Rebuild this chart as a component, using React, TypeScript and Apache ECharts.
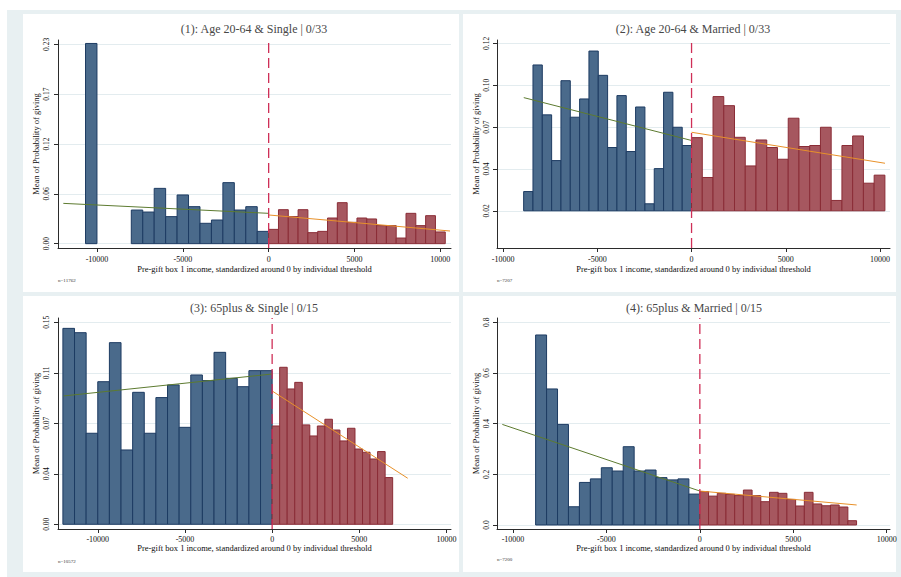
import React, { useEffect, useRef } from "react";
import * as echarts from "echarts";

// ---------- text ----------
const titles = [
  "(1): Age 20-64 & Single | 0/33",
  "(2): Age 20-64 & Married | 0/33",
  "(3): 65plus & Single | 0/15",
  "(4): 65plus & Married | 0/15",
];
const notes = ["n=11762", "n=7207", "n=10572", "n=7200"];
const xTitle = "Pre-gift box 1 income, standardized around 0 by individual threshold";
const yTitle = "Mean of Probability of giving";
const xTicks = [-10000, -5000, 0, 5000, 10000];
const xTickLabels = ["-10000", "-5000", "0", "5000", "10000"];

// ---------- y ticks ----------
const p1YTicks = [0, 0.0575, 0.115, 0.1725, 0.23];
const p1YLabels = ["0.00", "0.06", "0.12", "0.17", "0.23"];
const p2YTicks = [0.02, 0.045, 0.07, 0.095, 0.12];
const p2YLabels = ["0.02", "0.04", "0.07", "0.10", "0.12"];
const p3YTicks = [0, 0.0375, 0.075, 0.1125, 0.15];
const p3YLabels = ["0.00", "0.04", "0.07", "0.11", "0.15"];
const p4YTicks = [0, 0.2, 0.4, 0.6, 0.8];
const p4YLabels = ["0.0", "0.2", "0.4", "0.6", "0.8"];

// ---------- axis ranges ----------
const p1XRange = [-12270, 10620];
const p1YRange = [-0.005, 0.235];
const p2XRange = [-10324, 10531];
const p2YRange = [-0.0022, 0.122];
const p3XRange = [-12281, 10258];
const p3YRange = [-0.0035, 0.1532];
const p4XRange = [-10857, 10177];
const p4YRange = [-0.0158, 0.817];

// ---------- bins (start, width) ----------
const p1BlueBin = [-10667, 666.7];
const p1RedBin = [0, 571.4];
const p2BlueBin = [-8910, 495];
const p2RedBin = [0, 570];
const p3BlueBin = [-12000, 666.7];
const p3RedBin = [0, 432];
const p4BlueBin = [-8790, 586];
const p4RedBin = [0, 466];

// ---------- bar values ----------
const p1Blue = [0.231, null, null, null, 0.0388, 0.0365, 0.0638, 0.0312, 0.0562, 0.0427, 0.0235, 0.0273, 0.0704, 0.0388, 0.0427, 0.0142];
const p1Red = [0.0165, 0.0392, 0.0312, 0.0392, 0.0127, 0.0142, 0.0296, 0.0473, 0.0246, 0.0296, 0.0285, 0.0208, 0.0208, 0.0065, 0.035, 0.0208, 0.0323, 0.0135];
const p2Blue = [0.0315, 0.1071, 0.0773, 0.05, 0.0977, 0.0759, 0.0868, 0.1154, 0.1009, 0.0578, 0.0888, 0.0554, 0.082, 0.0242, 0.0452, 0.0908, 0.0699, 0.059];
const p2Red = [0.0637, 0.0399, 0.0882, 0.0828, 0.0639, 0.0468, 0.0623, 0.0578, 0.0508, 0.0753, 0.0584, 0.059, 0.0699, 0.0262, 0.059, 0.0647, 0.0365, 0.0413];
const p3Blue = [0.1455, 0.1423, 0.0676, 0.1059, 0.1349, 0.0552, 0.098, 0.0676, 0.0941, 0.1035, 0.072, 0.1109, 0.1067, 0.1277, 0.1084, 0.1022, 0.1141, 0.1141];
const p3Red = [0.073, 0.1166, 0.1005, 0.1054, 0.0738, 0.0656, 0.073, 0.078, 0.07, 0.0619, 0.0713, 0.0559, 0.0535, 0.0485, 0.054, 0.0347];
const p4Blue = [0.75, 0.537, 0.397, 0.072, 0.168, 0.182, 0.226, 0.213, 0.309, 0.213, 0.217, 0.187, 0.178, 0.182, 0.122];
const p4Red = [0.132, 0.114, 0.125, 0.121, 0.116, 0.138, 0.116, 0.092, 0.129, 0.125, 0.101, 0.075, 0.129, 0.083, 0.076, 0.079, 0.071, 0.017];
const barBase = [0, 0.02, 0, 0];

// ---------- fitted lines ----------
const p1FitLeft = [[-11960, 0.0465], [0, 0.035]];
const p1FitRight = [[0, 0.0331], [10563, 0.0146]];
const p2FitLeft = [[-8903, 0.0876], [0, 0.062]];
const p2FitRight = [[0, 0.0669], [10265, 0.0484]];
const p3FitLeft = [[-11958, 0.0953], [0, 0.1116]];
const p3FitRight = [[0, 0.099], [7775, 0.0342]];
const p4FitLeft = [[-10571, 0.397], [0, 0.134]];
const p4FitRight = [[0, 0.134], [8393, 0.079]];

// ---------- layout & styles ----------
const grids = [
  { left: 58, top: 40, width: 393, height: 208 },
  { left: 497, top: 40, width: 393, height: 208 },
  { left: 58, top: 318, width: 393, height: 211 },
  { left: 497, top: 318, width: 393, height: 211 },
];
const panels = [
  { x: 23, y: 14, w: 436, h: 278 },
  { x: 463, y: 14, w: 433, h: 278 },
  { x: 23, y: 296, w: 436, h: 276 },
  { x: 463, y: 296, w: 433, h: 276 },
];
const titlePos = [[254, 29], [693, 29], [254, 308], [694, 308]];
const notePos = [[58, 280], [497, 280], [58, 561], [497, 559]];
const yLabelMargin = [8, 7, 8, 7];
const yNameGap = [18, 17, 18, 17];
const xLabelMargin = [7.5, 7.5, 6, 6];
const xNameGap = [15, 15, 14, 14];

const FONT = "'Liberation Serif', 'DejaVu Serif', serif";
const BLUE_FILL = "#4a6a8b";
const BLUE_EDGE = "#1d3b62";
const RED_FILL = "#a6575f";
const RED_EDGE = "#8a2c36";
const GREEN = "#5d7b30";
const ORANGE = "#e8912a";
const DASH = "#cf2f57";
const GRIDC = "#e3ecef";
const BG = "#e8f0f2";
const TXT = "#0d0d0d";

type Panel = {
  xr: number[]; yr: number[]; yt: number[]; yl: string[];
  blue: (number | null)[]; red: (number | null)[];
  blueBin: number[]; redBin: number[];
  fitL: number[][]; fitR: number[][];
};

const panelData: Panel[] = [
  { xr: p1XRange, yr: p1YRange, yt: p1YTicks, yl: p1YLabels, blue: p1Blue, red: p1Red, blueBin: p1BlueBin, redBin: p1RedBin, fitL: p1FitLeft, fitR: p1FitRight },
  { xr: p2XRange, yr: p2YRange, yt: p2YTicks, yl: p2YLabels, blue: p2Blue, red: p2Red, blueBin: p2BlueBin, redBin: p2RedBin, fitL: p2FitLeft, fitR: p2FitRight },
  { xr: p3XRange, yr: p3YRange, yt: p3YTicks, yl: p3YLabels, blue: p3Blue, red: p3Red, blueBin: p3BlueBin, redBin: p3RedBin, fitL: p3FitLeft, fitR: p3FitRight },
  { xr: p4XRange, yr: p4YRange, yt: p4YTicks, yl: p4YLabels, blue: p4Blue, red: p4Red, blueBin: p4BlueBin, redBin: p4RedBin, fitL: p4FitLeft, fitR: p4FitRight },
];

function binRows(vals: (number | null)[], bin: number[], base: number) {
  const rows: number[][] = [];
  vals.forEach((v, i) => {
    if (v == null) return;
    const s = bin[0] + i * bin[1];
    rows.push([s, s + bin[1], v, base]);
  });
  return rows;
}

function barSeries(idx: number, rows: number[][], fill: string, edge: string) {
  return {
    type: "custom",
    xAxisIndex: idx,
    yAxisIndex: idx,
    encode: { x: [0, 1], y: [2, 3] },
    data: rows,
    z: 2,
    renderItem: (_p: any, api: any) => {
      const a = api.coord([api.value(0), api.value(2)]);
      const b = api.coord([api.value(1), api.value(3)]);
      return {
        type: "rect",
        shape: { x: a[0], y: a[1], width: b[0] - a[0], height: b[1] - a[1] },
        style: { fill, stroke: edge, lineWidth: 1 },
      };
    },
  };
}

export default function App() {
  const ref = useRef<HTMLDivElement>(null);
  useEffect(() => {
    if (!ref.current) return;
    const chart = echarts.init(ref.current, undefined, { renderer: "svg" });

    const xAxis: any[] = [];
    const yAxis: any[] = [];
    const series: any[] = [];
    const graphic: any[] = [
      { type: "rect", z: -100, shape: { x: 7, y: 10, width: 894, height: 567 }, style: { fill: BG } },
    ];

    panelData.forEach((p, i) => {
      graphic.push({ type: "rect", z: -90, shape: { x: panels[i].x, y: panels[i].y, width: panels[i].w, height: panels[i].h }, style: { fill: "#ffffff" } });
      graphic.push({ type: "text", x: titlePos[i][0], y: titlePos[i][1], style: { text: titles[i], font: `12px ${FONT}`, fill: "#474747", textAlign: "center", textVerticalAlign: "middle" } });
      graphic.push({ type: "text", x: notePos[i][0], y: notePos[i][1], style: { text: notes[i], font: `5px ${FONT}`, fill: "#333", textAlign: "left", textVerticalAlign: "middle" } });

      xAxis.push({
        type: "value", gridIndex: i, min: p.xr[0], max: p.xr[1],
        name: xTitle, nameLocation: "middle", nameGap: xNameGap[i],
        nameTextStyle: { fontFamily: FONT, fontSize: 8.5, color: TXT },
        axisLine: { show: true, onZero: false, lineStyle: { color: "#2b2b2b", width: 1 } },
        axisTick: { show: true, inside: false, length: 4, customValues: xTicks, lineStyle: { color: "#2b2b2b" } },
        axisLabel: {
          show: true, customValues: xTicks, margin: xLabelMargin[i], fontFamily: FONT, fontSize: 8, color: TXT,
          formatter: (v: number) => xTickLabels[xTicks.indexOf(v)] ?? String(v),
        },
        splitLine: { show: false },
      });
      yAxis.push({
        type: "value", gridIndex: i, min: p.yr[0], max: p.yr[1],
        name: yTitle, nameLocation: "middle", nameGap: yNameGap[i], nameRotate: 90,
        nameTextStyle: { fontFamily: FONT, fontSize: 8.5, color: TXT },
        axisLine: { show: true, onZero: false, lineStyle: { color: "#2b2b2b", width: 1 } },
        axisTick: { show: true, inside: false, length: 4, customValues: p.yt, lineStyle: { color: "#2b2b2b" } },
        axisLabel: {
          show: true, customValues: p.yt, rotate: 90, margin: yLabelMargin[i], fontFamily: FONT, fontSize: 7.5, color: TXT,
          formatter: (v: number) => {
            let best = 0;
            p.yt.forEach((t, k) => { if (Math.abs(t - v) < Math.abs(p.yt[best] - v)) best = k; });
            return p.yl[best];
          },
        },
        splitLine: { show: true, lineStyle: { color: GRIDC, width: 1 } },
      });

      series.push(barSeries(i, binRows(p.blue, p.blueBin, barBase[i]), BLUE_FILL, BLUE_EDGE));
      series.push(barSeries(i, binRows(p.red, p.redBin, barBase[i]), RED_FILL, RED_EDGE));
      series.push({
        type: "line", xAxisIndex: i, yAxisIndex: i, data: p.fitL, showSymbol: false, z: 3,
        lineStyle: { color: GREEN, width: 1 }, silent: true,
      });
      series.push({
        type: "line", xAxisIndex: i, yAxisIndex: i, data: p.fitR, showSymbol: false, z: 3,
        lineStyle: { color: ORANGE, width: 1 }, silent: true,
      });
      series.push({
        type: "line", xAxisIndex: i, yAxisIndex: i, data: [[0, p.yr[0]], [0, p.yr[1]]], showSymbol: false, z: 4,
        lineStyle: { color: DASH, width: 1.3, type: [10, 5] }, silent: true,
      });
    });

    chart.setOption({
      animation: false,
      backgroundColor: "#ffffff",
      grid: grids.map((g) => ({ ...g, containLabel: false })),
      xAxis,
      yAxis,
      series,
      graphic,
    });
    return () => chart.dispose();
  }, []);

  return <div ref={ref} style={{ position: "fixed", left: 0, top: 0, width: 901, height: 577 }} />;
}
